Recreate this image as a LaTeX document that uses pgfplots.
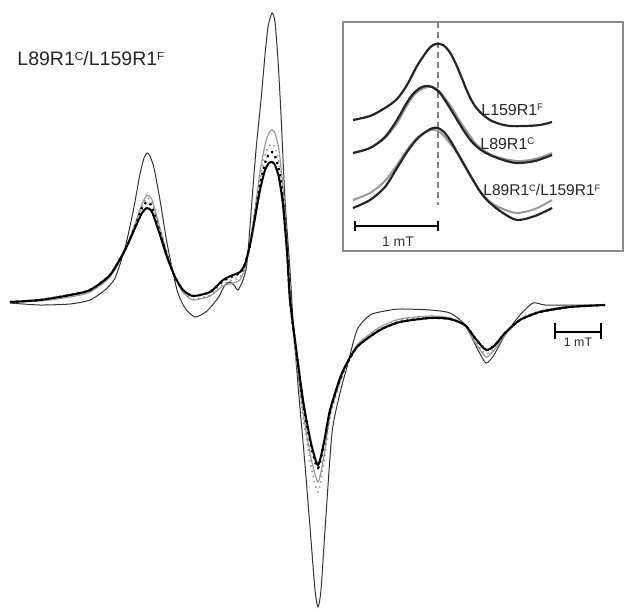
\documentclass[border=0pt]{standalone}
\usepackage{pgfplots}
\pgfplotsset{compat=1.18}
\usepackage{fontspec}
\setmainfont{Liberation Sans}
\newcommand{\spx}[1]{\raisebox{0.55ex}{\scalebox{0.6}{#1}}}
\begin{document}
\begin{tikzpicture}
\begin{axis}[
  scale only axis, width=312.5bp, height=304.5bp,
  xmin=0, xmax=625, ymin=0, ymax=609, y dir=reverse,
  hide axis, clip=false,
]
\addplot[draw=none] coordinates {(0,0) (625,609)};
% ---- main spectrum ----
% thin black
\addplot[black!80, line width=0.5bp, smooth, tension=0.4] coordinates {
(10,303)(40,305)(70,304)(90,300)(105,290)(115,278)(125,248)(133,212)(140,174)(144,158)(147,153)(150,156)(154,168)(160,200)(167,243)(177,290)(185,308)(195,317)(207,311)(218,298)(225,285)(230,282)(234,285)(238,290)(243,280)(247,263)(252,200)(256,150)(261,100)(265,55)(268,27)(272,13)(275,22)(278,60)(281,115)(285,200)(290,270)(293,320)(298,385)(305,465)(311,540)(315,590)(318,607)(321,590)(325,530)(332,433)(340,393)(347,367)(357,330)(370,315)(385,311)(400,309)(430,310)(450,313)(465,325)(478,350)(486,363)(494,355)(505,335)(520,315)(533,303)(545,305)(570,305)(605,305)};
% gray solid
\addplot[black!40, line width=0.6bp, smooth, tension=0.4] coordinates {
(10,302)(40,301)(70,297)(90,292)(110,277)(125,250)(135,224)(142,204)(147,195)(152,200)(160,228)(167,253)(175,277)(183,292)(193,300)(210,296)(223,286)(233,283)(240,280)(245,268)(250,245)(255,210)(260,172)(265,145)(269,133)(272,130)(275,133)(279,150)(283,188)(287,245)(290,300)(295,348)(303,412)(311,458)(318,482)(324,456)(330,415)(342,375)(357,345)(380,327)(400,319)(430,316)(450,318)(465,326)(475,342)(486,357)(495,349)(505,335)(520,320)(540,311)(570,306)(605,305)};
% gray dotted
\addplot[black!45, line width=0.7bp, dotted, smooth, tension=0.4] coordinates {
(10,302)(40,300)(70,296)(90,291)(110,276)(125,250)(135,226)(142,206)(147,198)(152,203)(160,230)(167,255)(175,278)(183,292)(193,299)(210,295)(223,284)(233,280)(240,277)(245,266)(250,245)(255,212)(260,180)(265,155)(269,146)(272,144)(275,147)(279,162)(283,195)(287,248)(290,300)(295,350)(303,418)(311,466)(318,492)(324,462)(330,418)(342,377)(357,347)(380,329)(400,320)(430,317)(450,319)(465,326)(475,341)(486,354)(495,347)(505,334)(520,319)(540,311)(570,306)(605,305)};
% black dotted
\addplot[black, line width=1.1bp, dotted, smooth, tension=0.4] coordinates {
(10,302)(40,300)(70,295)(90,290)(110,275)(125,250)(135,227)(142,208)(147,202)(152,207)(160,233)(167,256)(175,277)(183,290)(193,296)(210,292)(223,281)(233,276)(240,273)(245,264)(250,245)(255,215)(260,185)(265,163)(269,154)(272,152)(275,156)(279,170)(283,200)(287,250)(290,300)(295,342)(303,402)(311,446)(318,468)(324,444)(330,411)(342,374)(357,347)(380,330)(400,322)(430,318)(450,319)(465,325)(475,338)(486,350)(495,345)(505,333)(520,320)(540,312)(570,307)(605,305)};
% thick black
\addplot[black, line width=1bp, smooth, tension=0.4] coordinates {
(10,302)(40,300)(70,295)(90,290)(110,275)(125,250)(135,228)(142,213)(147,208)(152,212)(160,235)(167,257)(175,277)(183,290)(193,296)(210,292)(223,280)(233,275)(240,272)(245,264)(250,245)(255,218)(260,190)(265,170)(269,163)(272,162)(275,165)(279,178)(283,205)(287,252)(290,300)(295,340)(303,400)(311,443)(318,465)(324,442)(330,410)(342,373)(357,347)(380,330)(400,322)(430,318)(450,319)(465,325)(475,338)(486,350)(495,345)(505,333)(520,320)(540,312)(570,307)(605,305)};
% ---- inset ----
\draw[black!45, line width=0.8bp] (axis cs:343,22) rectangle (axis cs:623,251);
\draw[black!50, line width=1bp, dash pattern=on 3bp off 2bp] (axis cs:438,22) -- (axis cs:438,205);
% L159R1F
\addplot[black!85, line width=1.1bp, smooth, tension=0.5] coordinates {
(353,120)(370,116)(385,108)(397,99)(407,85)(417,66)(427,51)(433,45)(438,44)(443,45)(449,51)(455,62)(461,76)(467,91)(473,103)(480,112)(490,120)(500,124)(510,126)(525,126)(540,125)(552,122)};
% L89R1C gray
\addplot[black!40, line width=1bp, smooth, tension=0.5] coordinates {
(353,153)(370,148)(385,138)(397,123)(406,107)(414,95)(422,89)(428,87)(432,87)(437,89)(444,97)(452,108)(461,123)(470,136)(478,146)(494,156)(517,161)(535,159)(552,153)};
% L89R1C black
\addplot[black!85, line width=1.1bp, smooth, tension=0.5] coordinates {
(353,153)(370,148)(385,137)(397,120)(406,104)(413,94)(420,88)(426,86)(432,87)(440,93)(448,105)(456,118)(464,131)(472,142)(481,150)(490,155)(503,160)(517,163)(535,161)(552,155)};
% L89R1C/L159R1F gray
\addplot[black!40, line width=1bp, smooth, tension=0.5] coordinates {
(353,200)(370,193)(385,181)(397,165)(407,150)(417,138)(427,131)(435,130)(441,133)(449,142)(457,153)(465,167)(473,180)(481,192)(490,202)(503,209)(517,213)(535,209)(552,200)};
% L89R1C/L159R1F black
\addplot[black!85, line width=1.1bp, smooth, tension=0.5] coordinates {
(353,208)(370,200)(385,187)(397,168)(407,152)(417,139)(427,131)(433,128)(438,128)(444,132)(450,140)(457,152)(465,166)(473,180)(481,193)(490,203)(503,213)(517,220)(535,216)(552,208)};
% inset scale bar
\draw[black, line width=0.9bp] (axis cs:355,226) -- (axis cs:438,226);
\draw[black, line width=0.9bp] (axis cs:355,221) -- (axis cs:355,231);
\draw[black, line width=0.9bp] (axis cs:438,221) -- (axis cs:438,231);
\node[font=\fontsize{7}{8}\selectfont, text=black!80] at (axis cs:398,242) {1 mT};
% inset labels
\node[anchor=west, font=\fontsize{8}{9}\selectfont, text=black!85, inner sep=0pt] at (axis cs:481,110) {L159R1\spx{F}};
\node[anchor=west, font=\fontsize{8}{9}\selectfont, text=black!85, inner sep=0pt] at (axis cs:480,144) {L89R1\spx{C}};
\node[anchor=west, font=\fontsize{7.8}{9}\selectfont, text=black!85, inner sep=0pt] at (axis cs:483,190) {L89R1\spx{C}/L159R1\spx{F}};
% main scale bar
\draw[black, line width=0.9bp] (axis cs:555,332) -- (axis cs:601,332);
\draw[black, line width=0.9bp] (axis cs:555,323) -- (axis cs:555,339);
\draw[black, line width=0.9bp] (axis cs:601,323) -- (axis cs:601,339);
\node[font=\fontsize{6.2}{7}\selectfont, text=black!85] at (axis cs:578,342) {1 mT};
% main label
\node[anchor=west, font=\fontsize{9.8}{11}\selectfont, text=black!85, inner sep=0pt] at (axis cs:17,59) {L89R1\spx{C}/L159R1\spx{F}};
\end{axis}
\end{tikzpicture}
\end{document}
